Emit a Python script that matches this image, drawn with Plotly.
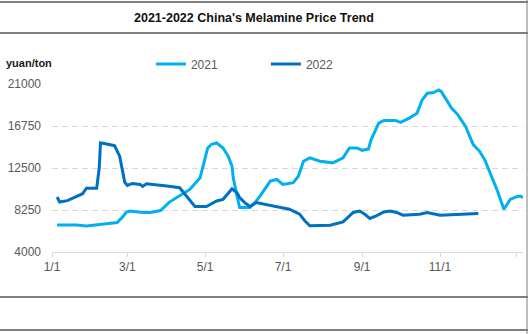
import plotly.graph_objects as go

# Day of year (0 = Jan 1) and price in yuan/ton for each season
days_2021 = [4, 19, 27, 38, 51, 55, 58, 61, 71, 77, 85, 92, 98, 100, 108, 116, 120,
             122, 125, 129, 134, 138, 141, 142, 145, 147, 155, 159, 163, 171, 176,
             181, 189, 193, 197, 202, 210, 220, 228, 233, 239, 243, 248, 250, 256,
             260, 269, 273, 280, 286, 290, 294, 299, 303, 305, 309, 313, 318, 324,
             330, 335, 339, 344, 349, 354, 359, 364, 367, 369]
price_2021 = [6740, 6740, 6640, 6820, 6990, 7500, 8000, 8150, 8000, 8000, 8200, 9050,
              9500, 9660, 10330, 11510, 13350, 14530, 14900, 15030, 14530, 13690,
              12690, 11500, 9660, 8500, 8500, 9000, 9660, 11180, 11340, 10840, 11010,
              11670, 13180, 13520, 13180, 13020, 13520, 14530, 14530, 14290, 14430,
              15370, 17050, 17310, 17310, 17110, 17550, 18050, 19390, 20060, 20130,
              20400, 20230, 19390, 18560, 17880, 16710, 14870, 14190, 13350, 11850,
              10170, 8330, 9330, 9600, 9660, 9500]

days_2022 = [4, 6, 12, 19, 24, 27, 35, 37, 38, 40, 49, 53, 57, 59, 63, 69, 71, 74,
             79, 90, 100, 104, 112, 121, 129, 134, 137, 141, 145, 147, 151, 155,
             160, 171, 179, 186, 194, 198, 202, 207, 218, 228, 233, 236, 241, 245,
             249, 254, 260, 265, 270, 275, 288, 294, 304, 320, 334]
price_2022 = [9560, 9060, 9200, 9620, 9900, 10450, 10450, 12500, 15030, 15000, 14760,
              13700, 11050, 10740, 10940, 10840, 10640, 10900, 10840, 10670, 10500,
              9830, 8600, 8600, 9160, 9330, 9830, 10400, 10000, 9500, 9000, 8600,
              9000, 8730, 8500, 8330, 7830, 7160, 6650, 6650, 6700, 7050, 7650, 8000,
              8150, 7830, 7390, 7650, 8050, 8150, 8000, 7720, 7830, 8000, 7720, 7800,
              7890]

tick_days = [0, 59, 120, 181, 243, 304, 364]
tick_text = ["1/1", "3/1", "5/1", "7/1", "9/1", "11/1", ""]
y_ticks = [4000, 8250, 12500, 16750, 21000]
y_tick_text = ["4000", "8250", "12500", "16750", "21000"]

fig = go.Figure()
fig.add_trace(go.Scatter(x=days_2021, y=price_2021, name="2021", mode="lines",
                         line=dict(color="#00B0F0", width=3)))
fig.add_trace(go.Scatter(x=days_2022, y=price_2022, name="2022", mode="lines",
                         line=dict(color="#0070C0", width=3)))

fig.update_layout(
    width=528, height=334,
    margin=dict(l=52, r=5, t=84, b=82),
    paper_bgcolor="white", plot_bgcolor="white",
    font=dict(family="Liberation Sans, Arial, sans-serif", size=12, color="#595959"),
    showlegend=True,
    legend=dict(orientation="h", x=0.21, y=1.119, xanchor="left", yanchor="middle",
                entrywidth=70, entrywidthmode="pixels",
                font=dict(size=12, color="#595959"), bgcolor="rgba(0,0,0,0)"),
    title=dict(text="<b>2021-2022 China's Melamine Price Trend</b>",
               x=0.481, xref="container", y=0.946, yref="container", xanchor="center",
               yanchor="middle",
               font=dict(size=12.5, color="#111111",
                         family="Liberation Sans, Arial, sans-serif")),
)

fig.update_xaxes(range=[0, 369], tickmode="array", tickvals=tick_days, ticktext=tick_text,
                 showgrid=False, showline=True, linecolor="#d9d9d9", linewidth=1,
                 ticks="outside", ticklen=4, tickcolor="#d9d9d9",
                 tickfont=dict(size=12, color="#595959"), zeroline=False)
fig.update_yaxes(range=[4000, 21000], tickmode="array", tickvals=y_ticks,
                 ticktext=y_tick_text,
                 showgrid=True, gridcolor="#d9d9d9", griddash="6px,4px", gridwidth=1,
                 showline=False, zeroline=False, ticks="", ticklabelstandoff=10,
                 tickfont=dict(size=12, color="#595959"))

# Unit label above the value axis
fig.add_annotation(text="<b>yuan/ton</b>", xref="paper", yref="paper", x=-0.102,
                   y=1.125, xanchor="left", yanchor="middle", showarrow=False,
                   font=dict(size=11, color="#1a1a1a"))

# Frame rules (pixel rows from the top): top edge, under the title, below the axis,
# bottom edge; plus a rule down the right edge
plot_top, plot_h = 84, 168
for row in [2, 33, 297, 330]:
    yy = (plot_top + plot_h - row) / plot_h
    fig.add_shape(type="line", xref="paper", yref="paper", x0=-0.2, x1=1.2,
                  y0=yy, y1=yy, line=dict(color="#7f7f7f", width=2))
fig.add_shape(type="line", xref="paper", yref="paper",
              x0=(527 - 52) / 471, x1=(527 - 52) / 471, y0=-1, y1=2,
              line=dict(color="#7f7f7f", width=1))

fig.write_html("out.html")
